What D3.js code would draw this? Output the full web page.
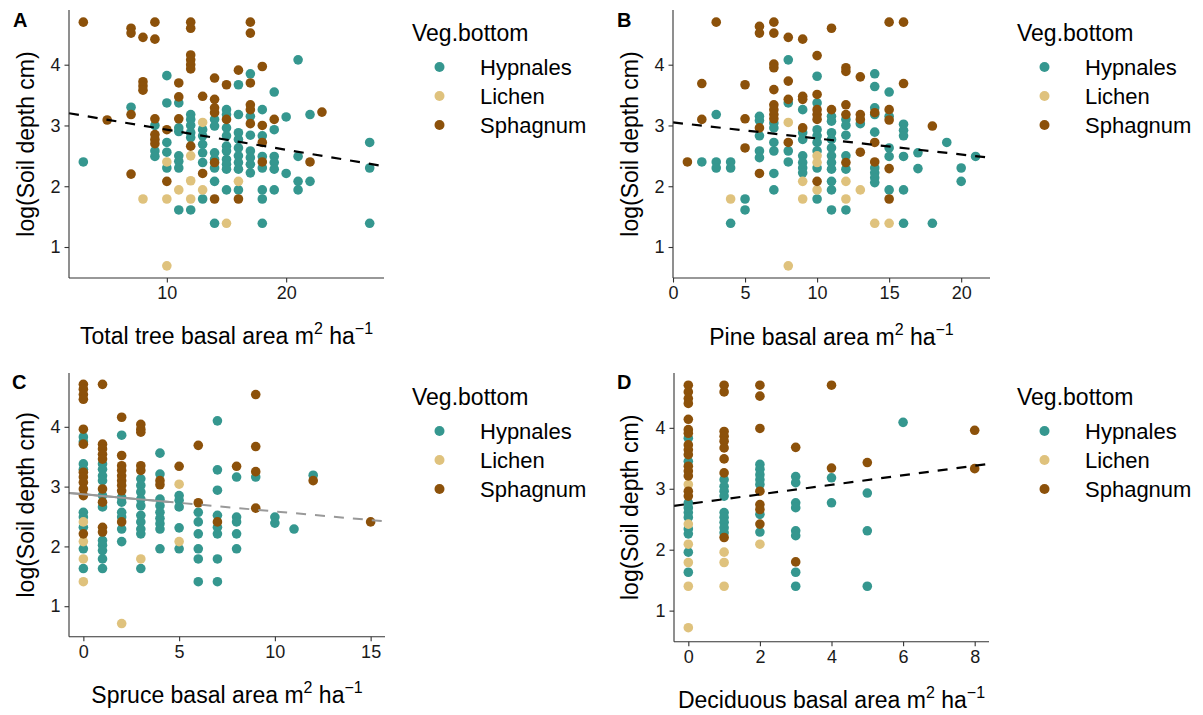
<!DOCTYPE html>
<html>
<head>
<meta charset="utf-8">
<script src="https://cdn.jsdelivr.net/npm/d3@7"></script>
<style>
  html, body { margin: 0; padding: 0; background: #ffffff; }
  svg { display: block; font-family: "Liberation Sans", Arial, sans-serif; }
</style>
</head>
<body>
<svg id="chart" width="1203" height="715"></svg>
<script>
// ---------------- DATA ----------------
const groups = ["Hypnales", "Lichen", "Sphagnum"];
const groupColors = ["#35978f", "#dfc27d", "#8c510a"];
const yTicks = [1, 2, 3, 4];
const yDomain = [0.49, 4.9];

// Panel A: total tree basal area
const totalHypnales = [[3,2.40],[7,3.30],[9,3.0],[9,2.58],[9,2.49],[10,3.82],[10,3.37],[10,2.72],[10,2.56],[10,2.30],[11,3.37],[11,2.96],[11,2.9],[11,2.5],[11,2.41],[11,2.3],[11,1.61],[12,3.18],[12,3.1],[12,3.0],[12,2.88],[12,2.8],[12,1.61],[13,2.93],[13,2.83],[13,2.69],[13,2.55],[13,2.39],[13,1.79],[14,3.1],[14,2.99],[14,2.55],[14,2.44],[14,2.3],[14,2.08],[14,1.39],[15,3.26],[15,3.18],[15,2.96],[15,2.83],[15,2.66],[15,2.58],[15,2.44],[15,2.36],[15,2.28],[15,1.94],[16,3.67],[16,3.18],[16,2.88],[16,2.77],[16,2.63],[16,2.5],[16,2.39],[16,2.28],[16,1.94],[17,3.85],[17,3.15],[17,2.84],[17,2.58],[17,2.47],[17,2.36],[17,2.22],[18,3.26],[18,2.83],[18,2.49],[18,2.3],[18,1.94],[18,1.79],[18,1.39],[19,3.55],[19,2.93],[19,2.49],[19,2.39],[19,2.28],[19,1.94],[20,3.14],[20,2.21],[21,4.08],[21,2.49],[21,2.08],[21,1.94],[22,3.18],[22,2.08],[27,2.72],[27,2.3],[27,1.39]];
const totalLichen = [[8,1.79],[10,2.40],[10,1.79],[10,0.69],[11,1.94],[12,2.5],[12,2.09],[12,1.79],[13,3.05],[13,1.94],[15,1.39],[16,2.08]];
const totalSphagnum = [[3,4.70],[5,3.09],[7,4.6],[7,4.52],[7,3.18],[7,2.2],[8,4.45],[8,3.72],[8,3.65],[8,3.58],[9,4.70],[9,4.42],[9,3.11],[9,2.85],[9,2.77],[9,2.70],[10,2.93],[10,2.08],[11,3.70],[11,3.47],[11,3.11],[12,4.70],[12,4.6],[12,4.16],[12,4.08],[12,4.0],[12,3.93],[12,2.66],[13,3.48],[13,2.21],[14,3.78],[14,3.43],[14,3.29],[14,3.21],[14,2.39],[14,1.79],[15,3.67],[15,3.1],[16,3.91],[16,1.79],[17,4.70],[17,4.52],[17,3.70],[17,3.34],[17,3.26],[17,3.03],[18,3.97],[18,3.0],[18,2.72],[18,2.4],[19,3.1],[22,2.4],[23,3.22]];

// Panel B: pine basal area
const pineHypnales = [[2,2.4],[3,3.18],[3,2.4],[3,2.3],[4,2.4],[4,2.3],[4,1.39],[5,1.79],[5,1.61],[6,3.15],[6,3.08],[6,2.83],[6,2.58],[6,2.47],[7,3.04],[7,2.96],[7,2.72],[7,2.58],[7,2.21],[7,1.94],[8,4.08],[8,3.37],[8,2.58],[8,2.4],[9,3.26],[9,2.88],[9,2.77],[9,2.5],[9,2.39],[9,2.3],[9,2.22],[10,3.81],[10,3.37],[10,2.93],[10,2.83],[10,2.72],[10,2.58],[10,2.3],[10,1.79],[11,3.15],[11,3.07],[11,2.88],[11,2.77],[11,2.63],[11,2.5],[11,2.39],[11,2.28],[11,2.08],[11,1.94],[11,1.61],[12,3.1],[12,3.0],[12,2.84],[12,2.5],[12,2.28],[12,1.61],[13,3.03],[14,3.85],[14,3.64],[14,3.29],[14,3.18],[14,2.89],[14,2.3],[14,2.22],[14,2.14],[14,2.06],[15,3.55],[15,3.15],[15,2.63],[15,2.49],[15,1.94],[16,3.02],[16,2.92],[16,2.83],[16,2.49],[16,1.94],[16,1.39],[17,2.55],[17,2.29],[18,1.39],[19,2.72],[20,2.3],[20,2.08],[21,2.49]];
const pineLichen = [[4,1.79],[8,3.05],[8,0.69],[9,2.08],[9,1.79],[10,2.5],[10,2.39],[10,1.94],[12,2.08],[12,1.79],[13,1.94],[14,1.39],[15,1.39]];
const pineSphagnum = [[1,2.4],[2,3.69],[2,3.1],[3,4.7],[5,3.67],[5,3.11],[5,2.63],[6,4.63],[6,4.52],[6,2.96],[6,2.21],[7,4.7],[7,4.52],[7,4.01],[7,3.95],[7,3.59],[7,3.34],[7,3.26],[7,3.18],[7,3.11],[8,4.45],[8,3.73],[8,3.43],[8,2.72],[9,4.42],[9,3.48],[9,3.43],[9,2.96],[10,4.15],[10,3.51],[10,3.26],[10,3.18],[10,3.1],[10,2.08],[11,4.6],[11,3.26],[12,3.95],[12,3.89],[12,3.34],[12,3.18],[12,2.39],[13,3.8],[13,3.18],[13,3.1],[13,2.56],[14,3.21],[14,2.72],[14,2.4],[15,4.7],[15,3.26],[15,3.09],[15,2.29],[15,1.79],[16,4.7],[16,3.69],[18,2.99]];

// Panel C: spruce basal area
const spruceHypnales = [[0,3.83],[0,3.75],[0,3.38],[0,3.29],[0,2.57],[0,2.49],[0,2.32],[0,1.96],[0,1.63],[1,3.38],[1,3.29],[1,3.18],[1,3.1],[1,2.85],[1,2.66],[1,2.1],[1,2.02],[1,1.93],[1,1.79],[1,1.63],[2,3.86],[2,2.82],[2,2.74],[2,2.57],[2,2.49],[2,2.29],[2,2.08],[3,3.13],[3,3.02],[3,2.91],[3,2.79],[3,2.68],[3,2.52],[3,2.41],[3,2.29],[3,2.21],[3,1.63],[4,3.56],[4,3.21],[4,2.79],[4,2.68],[4,2.57],[4,2.47],[4,2.38],[4,2.29],[4,1.96],[5,2.85],[5,2.77],[5,2.66],[5,2.31],[5,1.96],[6,2.57],[6,2.41],[6,2.21],[6,1.96],[6,1.79],[6,1.41],[7,4.1],[7,3.28],[7,2.94],[7,2.52],[7,2.32],[7,2.21],[7,1.79],[7,1.41],[8,3.16],[8,2.49],[8,2.41],[8,2.21],[8,1.96],[9,3.16],[10,2.49],[10,2.39],[11,2.29],[12,3.19]];
const spruceLichen = [[0,2.41],[0,2.08],[0,1.79],[0,1.41],[2,0.71],[3,1.79],[5,3.04],[5,2.08]];
const spruceSphagnum = [[0,4.71],[0,4.63],[0,4.54],[0,4.46],[0,3.96],[0,3.71],[0,3.24],[0,3.16],[0,3.07],[0,2.96],[0,2.85],[0,2.21],[1,4.71],[1,3.71],[1,3.63],[1,3.54],[1,3.46],[1,2.96],[1,2.74],[1,2.32],[1,2.24],[2,4.16],[2,3.52],[2,3.35],[2,3.27],[2,3.18],[2,3.1],[2,3.02],[2,2.93],[2,2.41],[3,4.04],[3,3.96],[3,3.91],[3,3.35],[3,3.27],[4,3.1],[4,3.03],[5,3.34],[6,3.69],[6,2.73],[7,2.41],[8,3.34],[9,4.54],[9,3.67],[9,3.25],[9,2.64],[12,3.1],[15,2.41]];

// Panel D: deciduous basal area
const decidHypnales = [[0,3.83],[0,3.45],[0,2.77],[0,2.69],[0,2.61],[0,2.53],[0,2.34],[0,2.26],[0,1.96],[0,1.63],[1,3.15],[1,3.04],[1,2.96],[1,2.88],[1,2.61],[1,2.53],[1,2.45],[1,2.36],[1,2.28],[2,3.4],[2,3.32],[2,3.23],[2,3.15],[2,3.07],[2,2.58],[2,2.29],[3,3.2],[3,3.1],[3,2.77],[3,2.69],[3,2.31],[3,2.23],[3,1.63],[3,1.4],[4,3.18],[4,2.77],[5,2.93],[5,2.31],[5,1.4],[6,4.09]];
const decidLichen = [[0,3.07],[0,2.42],[0,2.09],[0,1.79],[0,1.4],[0,0.72],[1,1.96],[1,1.79],[1,1.4],[2,2.09]];
const decidSphagnum = [[0,4.70],[0,4.59],[0,4.48],[0,4.40],[0,4.14],[0,3.97],[0,3.91],[0,3.72],[0,3.64],[0,3.56],[0,3.37],[0,3.29],[0,3.21],[0,2.96],[0,2.88],[1,4.70],[1,4.59],[1,3.94],[1,3.86],[1,3.78],[1,3.67],[1,3.49],[1,3.26],[1,2.2],[2,4.7],[2,4.52],[2,3.99],[2,2.96],[2,2.74],[2,2.66],[2,2.42],[3,3.68],[3,1.8],[4,4.7],[4,3.34],[5,3.43],[8,3.96],[8,3.33]];

// x ticks per panel
const totalTicks = [10, 20];
const pineTicks = [0, 5, 10, 15, 20];
const spruceTicks = [0, 5, 10, 15];
const decidTicks = [0, 2, 4, 6, 8];

// fitted lines: [intercept, slope]
const totalFit = [3.26, -0.033];
const pineFit = [3.05, -0.0264];
const spruceFit = [2.873, -0.0288];
const decidFit = [2.751, 0.0784];
const spruceSolidSpan = [-0.75, 4.5];

// ---------------- LAYOUT ----------------
const panels = [
  { tag: "A", label: "Total tree basal area m", data: [totalHypnales, totalLichen, totalSphagnum],
    xDomain: [1.8, 28.2], xRange: [69, 384], yRange: [278, 10], ticks: totalTicks, fit: totalFit,
    lineColor: "#000", tagPos: [13, 27], yTitleX: 34, xTitleY: 344, legendX: 412, legendY: 41 },
  { tag: "B", label: "Pine basal area m", data: [pineHypnales, pineLichen, pineSphagnum],
    xDomain: [0, 22], xRange: [673, 990], yRange: [278, 10], ticks: pineTicks, fit: pineFit,
    lineColor: "#000", tagPos: [617, 27], yTitleX: 638, xTitleY: 345, legendX: 1017, legendY: 41 },
  { tag: "C", label: "Spruce basal area m", data: [spruceHypnales, spruceLichen, spruceSphagnum],
    xDomain: [-0.75, 15.75], xRange: [69, 385], yRange: [636.7, 373], ticks: spruceTicks, fit: spruceFit,
    lineColor: "#999999", solid: spruceSolidSpan, tagPos: [12, 389], yTitleX: 34, xTitleY: 703, legendX: 412, legendY: 405 },
  { tag: "D", label: "Deciduous basal area m", data: [decidHypnales, decidLichen, decidSphagnum],
    xDomain: [-0.4, 8.4], xRange: [674, 989], yRange: [641.7, 373], ticks: decidTicks, fit: decidFit,
    lineColor: "#000", tagPos: [617, 389], yTitleX: 638, xTitleY: 708, legendX: 1017, legendY: 405 }
];

const svg = d3.select("#chart");
const axisColor = "#333333";

panels.forEach(p => {
  const g = svg.append("g");
  const x = d3.scaleLinear().domain(p.xDomain).range(p.xRange);
  const y = d3.scaleLinear().domain(yDomain).range(p.yRange);

  // points
  p.data.forEach((pts, gi) => {
    g.append("g").selectAll("circle").data(pts).join("circle")
      .attr("cx", d => x(d[0])).attr("cy", d => y(d[1]))
      .attr("r", 4.8).attr("fill", groupColors[gi]);
  });

  // fit line
  const line = d3.line().x(d => x(d)).y(d => y(p.fit[0] + p.fit[1] * d));
  if (p.solid) {
    g.append("path").attr("d", line(p.solid)).attr("fill", "none")
      .attr("stroke", p.lineColor).attr("stroke-width", 2);
  }
  g.append("path").attr("d", line(p.xDomain)).attr("fill", "none")
    .attr("stroke", p.lineColor).attr("stroke-width", p.lineColor === "#000" ? 2.2 : 2)
    .attr("stroke-dasharray", "10,9");

  // axes
  const xAxis = d3.axisBottom(x).tickValues(p.ticks).tickSize(4.5).tickPadding(4).tickFormat(d3.format("d"));
  const gx = g.append("g").attr("transform", `translate(0,${p.yRange[0]})`).call(xAxis);
  gx.select(".domain").attr("d", `M${p.xRange[0]},0H${p.xRange[1]}`);
  const yAxis = d3.axisLeft(y).tickValues(yTicks).tickSize(4.5).tickPadding(4).tickFormat(d3.format("d"));
  const gy = g.append("g").attr("transform", `translate(${p.xRange[0]},0)`).call(yAxis);
  gy.select(".domain").attr("d", `M0,${p.yRange[0]}V${p.yRange[1]}`);
  [gx, gy].forEach(ax => {
    ax.select(".domain").attr("stroke", axisColor).attr("stroke-width", 1.1);
    ax.selectAll(".tick line").attr("stroke", axisColor).attr("stroke-width", 1.1);
    ax.selectAll(".tick text").attr("fill", "#1a1a1a").style("font-size", "18px")
      .style("font-family", "'Liberation Sans', Arial, sans-serif");
  });

  // tag
  g.append("text").attr("x", p.tagPos[0]).attr("y", p.tagPos[1]).text(p.tag)
    .style("font-size", "20px").style("font-weight", "bold").attr("fill", "#000");

  // y title
  const yc = (p.yRange[0] + p.yRange[1]) / 2;
  g.append("text").attr("transform", `translate(${p.yTitleX},${yc}) rotate(-90)`)
    .attr("text-anchor", "middle").style("font-size", "23px").attr("fill", "#000")
    .text("log(Soil depth cm)");

  // x title with superscripts
  const xc = (p.xRange[0] + p.xRange[1]) / 2;
  const xt = g.append("text").attr("x", xc).attr("y", p.xTitleY).attr("text-anchor", "middle")
    .style("font-size", "23px").attr("fill", "#000");
  xt.append("tspan").text(p.label);
  xt.append("tspan").attr("dy", -10).style("font-size", "16px").text("2");
  xt.append("tspan").attr("dy", 10).text(" ha");
  xt.append("tspan").attr("dy", -10).style("font-size", "16px").text("\u22121");

  // legend
  const lg = g.append("g");
  lg.append("text").attr("x", p.legendX).attr("y", p.legendY).text("Veg.bottom")
    .style("font-size", "23px").attr("fill", "#000");
  groups.forEach((name, i) => {
    const cy = p.legendY + 26 + i * 29;
    lg.append("circle").attr("cx", p.legendX + 27.5).attr("cy", cy).attr("r", 5).attr("fill", groupColors[i]);
    lg.append("text").attr("x", p.legendX + 68).attr("y", cy + 8).text(name)
      .style("font-size", "22px").attr("fill", "#000");
  });
});
</script>
</body>
</html>
